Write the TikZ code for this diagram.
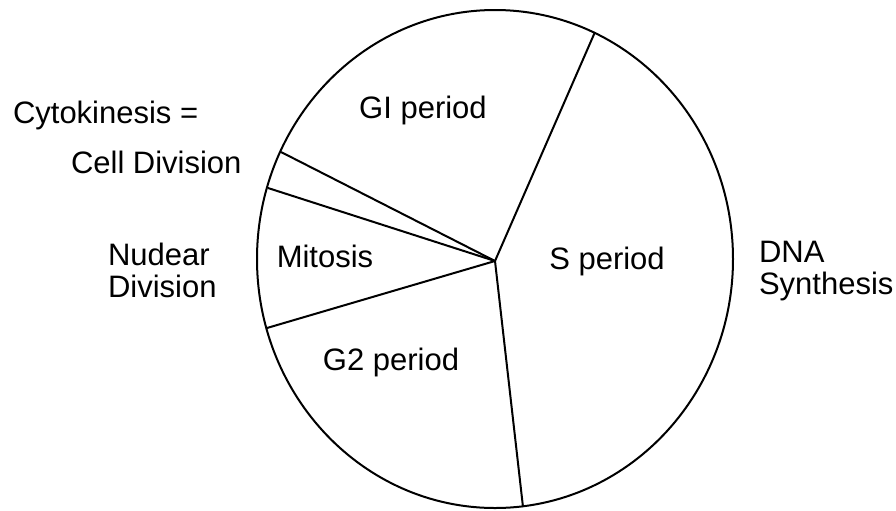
\documentclass[tikz,border=0pt]{standalone}
\usepackage{fontspec}
\setmainfont{Liberation Sans}
\usetikzlibrary{positioning}

\begin{document}
\begin{tikzpicture}[
    x=0.5pt,
    y=-0.5pt,
    line width=1pt,
    phase/.style={
        inner sep=0pt,
        font=\fontsize{15.5}{16}\selectfont
    },
    sidenote/.style={
        inner sep=0pt,
        anchor=west,
        align=left,
        font=\fontsize{15.5}{16}\selectfont
    }
]

\useasboundingbox (0,0) rectangle (896,510);

% The cycle
\draw (495,259) ellipse [x radius=238, y radius=249];

\coordinate (hub) at (495,261);
\coordinate (rimgs) at (595,32);
\coordinate (rimcy) at (281,152);
\coordinate (rimmi) at (268,188);
\coordinate (rimgt) at (267,328);
\coordinate (rimsg) at (523,507);

% Dividing lines
\draw (hub) -- (rimgs);
\draw (hub) -- (rimcy);
\draw (hub) -- (rimmi);
\draw (hub) -- (rimgt);
\draw (hub) -- (rimsg);

% Phase labels
\node[phase] (gone) at (423,110) {GI period};
\node[phase] (mit) at (325,256) {Mitosis};
\node[phase] (sper) at (607,261) {S period};
\node[phase] (gtwo) at (391,362) {G2 period};

% Side labels
\node[sidenote] (cyto) at (12,115) {Cytokinesis =};
\node[sidenote] (cell) at (70,162) {Cell Division};
\node[sidenote] (nuc) at (107,270) {Nudear\\Division};
\node[sidenote] (dna) at (758,271) {DNA\\Synthesis};
\end{tikzpicture}
\end{document}
